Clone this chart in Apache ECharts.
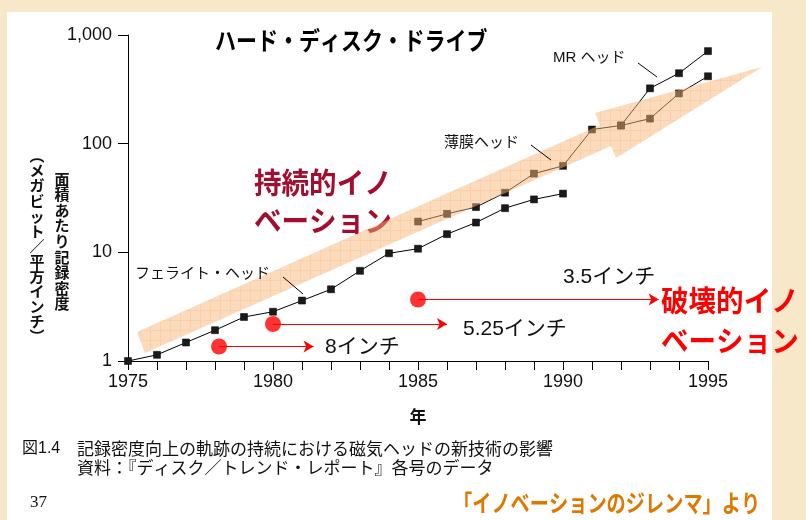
<!DOCTYPE html>
<html>
<head>
<meta charset="utf-8">
<script src="https://cdn.jsdelivr.net/npm/echarts@6/dist/echarts.min.js"></script>
<style>
  html, body { margin: 0; padding: 0; background: #f6e8c8; }
  #main { width: 806px; height: 520px; }
</style>
</head>
<body>
<div id="main"></div>
<script>
// 年
var ferriteYears = [1975, 1976, 1977, 1978, 1979, 1980, 1981, 1982, 1983, 1984, 1985, 1986, 1987, 1988, 1989, 1990];
var ferriteVals  = [1.0, 1.14, 1.48, 1.92, 2.54, 2.84, 3.6, 4.57, 6.76, 9.8, 10.8, 14.7, 18.8, 25.5, 30.7, 34.7];
var thinYears = [1985, 1986, 1987, 1988, 1989, 1990, 1991, 1992, 1993, 1994, 1995];
var thinVals  = [19.2, 22.6, 26.1, 35.4, 53, 62.5, 135, 147, 170, 290, 417];
var mrYears = [1992, 1993, 1994, 1995];
var mrVals  = [147, 323, 445, 711];

// ディスクの大きさ (赤丸と矢印)
var diskYears  = [1978.14, 1980, 1985];
var diskEnds   = [1981.4, 1986, 1993.3];
var diskVals   = [1.36, 2.19, 3.68];
var diskLabels = ['8インチ', '5.25インチ', '3.5インチ'];

var yTicks = [1, 10, 100, 1000];

var chart = echarts.init(document.getElementById('main'));

function pairs(xs, ys) {
    var out = [];
    for (var i = 0; i < xs.length; i++) out.push([xs[i], ys[i]]);
    return out;
}

// 矢印の網目模様
var pc = document.createElement('canvas');
pc.width = 10; pc.height = 10;
var pctx = pc.getContext('2d');
pctx.fillStyle = 'rgb(250,182,122)';
pctx.fillRect(0, 0, 10, 10);
pctx.fillStyle = 'rgb(246,160,90)';
pctx.fillRect(0, 0, 10, 1);
pctx.fillRect(0, 0, 1, 10);

var jp = '"Noto Sans CJK JP", sans-serif';
var mix = '"Liberation Sans", "Noto Sans CJK JP", sans-serif';

var lineSeries = function (name, xs, ys) {
    return {
        name: name,
        type: 'line',
        data: pairs(xs, ys),
        symbol: 'rect',
        symbolSize: 7,
        itemStyle: { color: '#1a1a1a', borderColor: '#000', borderWidth: 0.5 },
        lineStyle: { color: '#000', width: 1 },
        emphasis: { disabled: true },
        z: 3
    };
};

var diskLines = [];
for (var i = 0; i < diskYears.length; i++) {
    diskLines.push([{ coord: [diskYears[i], diskVals[i]] }, { coord: [diskEnds[i], diskVals[i]] }]);
}

var texts = [
    // 白い台紙
    { type: 'rect', z: -1, shape: { x: 7, y: 12, width: 765, height: 508 }, style: { fill: '#fff' } },
    // タイトル
    { type: 'text', x: 215, y: 40, scaleX: 0.84, z: 20,
      style: { text: 'ハード・ディスク・ドライブ', font: 'bold 25px ' + jp, fill: '#000', textVerticalAlign: 'middle' } },
    // 持続的イノベーション (矢印の下)
    { type: 'text', x: 254, y: 164, scaleX: 0.95, z: 5,
      style: { text: '持続的イノ\nベーション', font: 'bold 29px ' + jp, lineHeight: 38, fill: '#a50d2e' } },
    // 破壊的イノベーション
    { type: 'text', x: 661, y: 281, scaleX: 0.95, z: 20,
      style: { text: '破壊的イノ\nベーション', font: 'bold 29px ' + jp, lineHeight: 40, fill: '#ff0000' } },
    // 系列名
    { type: 'text', x: 135, y: 272, z: 20, style: { text: 'フェライト・ヘッド', font: '15px ' + jp, fill: '#111', textVerticalAlign: 'middle' } },
    { type: 'text', x: 444, y: 141, z: 20, style: { text: '薄膜ヘッド', font: '15px ' + jp, fill: '#111', textVerticalAlign: 'middle' } },
    { type: 'text', x: 553, y: 58, z: 20, style: { text: 'MR ヘッド', font: '15px ' + mix, fill: '#111', textVerticalAlign: 'middle' } },
    { type: 'line', z: 20, shape: { x1: 283, y1: 277, x2: 303, y2: 294 }, style: { stroke: '#000', lineWidth: 1 } },
    { type: 'line', z: 20, shape: { x1: 531, y1: 145, x2: 551, y2: 160 }, style: { stroke: '#000', lineWidth: 1 } },
    { type: 'line', z: 20, shape: { x1: 638, y1: 63, x2: 657, y2: 77 }, style: { stroke: '#000', lineWidth: 1 } },
    // ディスク
    { type: 'text', x: 325, y: 347, z: 20, style: { text: diskLabels[0], font: '21px ' + mix, fill: '#111', textVerticalAlign: 'middle' } },
    { type: 'text', x: 463, y: 329, z: 20, style: { text: diskLabels[1], font: '21px ' + mix, fill: '#111', textVerticalAlign: 'middle' } },
    { type: 'text', x: 563, y: 277, z: 20, style: { text: diskLabels[2], font: '21px ' + mix, fill: '#111', textVerticalAlign: 'middle' } },
    // 縦軸名
    { type: 'text', x: 62, y: 171, z: 20,
      style: { text: '面積あたり記録密度'.split('').join('\n'), font: 'bold 15px ' + jp, lineHeight: 15.6, fill: '#111', textAlign: 'center' } },
    { type: 'text', x: 37, y: 148, z: 20,
      style: { text: '︵メガビット／平方インチ︶'.split('').join('\n'), font: 'bold 15px ' + jp, lineHeight: 15.1, fill: '#111', textAlign: 'center' } },
    // 図の説明
    { type: 'text', x: 22, y: 449, z: 20, style: { text: '図1.4', font: '16px ' + mix, fill: '#111', textVerticalAlign: 'middle' } },
    { type: 'text', x: 77, y: 449, z: 20, style: { text: '記録密度向上の軌跡の持続における磁気ヘッドの新技術の影響', font: '17px ' + jp, fill: '#111', textVerticalAlign: 'middle' } },
    { type: 'text', x: 77, y: 468, z: 20, style: { text: '資料：『ディスク／トレンド・レポート』各号のデータ', font: '17px ' + jp, fill: '#111', textVerticalAlign: 'middle' } },
    { type: 'text', x: 30, y: 503, z: 20, style: { text: '37', font: '17px "Liberation Serif", serif', fill: '#111', textVerticalAlign: 'middle' } },
    { type: 'text', x: 453, y: 503, scaleX: 0.8, z: 20,
      style: { text: '「イノベーションのジレンマ」より', font: 'bold 24px ' + jp, fill: '#e07800', textVerticalAlign: 'middle' } },
    // 持続的イノベーションの矢印 (系列の上に半透明で重ねる)
    { type: 'polygon', z: 10,
      shape: { points: [[137, 332], [600, 125], [595, 113], [762, 67], [616, 158], [611, 146], [145, 353]] },
      style: { fill: { image: pc, repeat: 'repeat' }, opacity: 0.5 } }
];

chart.setOption({
    backgroundColor: '#f6e8c8',
    animation: false,
    grid: { left: 128, top: 35, width: 580, height: 326 },
    xAxis: {
        type: 'value',
        min: 1975, max: 1995, interval: 1,
        name: '年',
        nameLocation: 'middle',
        nameGap: 47,
        nameTextStyle: { fontSize: 17, fontWeight: 'bold', color: '#111', fontFamily: 'Noto Sans CJK JP' },
        axisLine: { lineStyle: { color: '#000', width: 1 } },
        axisTick: { length: 9, lineStyle: { color: '#000' } },
        axisLabel: {
            margin: 12, fontSize: 18, color: '#111', fontFamily: 'Liberation Sans',
            formatter: function (v) { return v % 5 === 0 ? v : ''; }
        },
        splitLine: { show: false }
    },
    yAxis: {
        type: 'log',
        logBase: 10,
        min: yTicks[0], max: yTicks[yTicks.length - 1],
        axisLine: { show: true, lineStyle: { color: '#000', width: 1 } },
        axisTick: { show: true, length: 10, lineStyle: { color: '#000' } },
        axisLabel: {
            margin: 16, fontSize: 18, color: '#111', fontFamily: 'Liberation Sans',
            formatter: function (v) { return v >= 1000 ? '1,000' : String(v); }
        },
        splitLine: { show: false }
    },
    graphic: { elements: texts },
    series: [
        lineSeries('フェライト・ヘッド', ferriteYears, ferriteVals),
        lineSeries('薄膜ヘッド', thinYears, thinVals),
        lineSeries('MRヘッド', mrYears, mrVals),
        {
            name: 'ディスク',
            type: 'scatter',
            data: pairs(diskYears, diskVals),
            symbol: 'circle',
            symbolSize: 16,
            itemStyle: { color: '#ff0000' },
            emphasis: { disabled: true },
            z: 4,
            markLine: {
                silent: true,
                symbol: ['none', 'arrow'],
                symbolSize: [9, 10],
                label: { show: false },
                lineStyle: { color: '#ff0000', width: 1, type: 'solid' },
                data: diskLines
            }
        }
    ]
});
</script>
</body>
</html>
